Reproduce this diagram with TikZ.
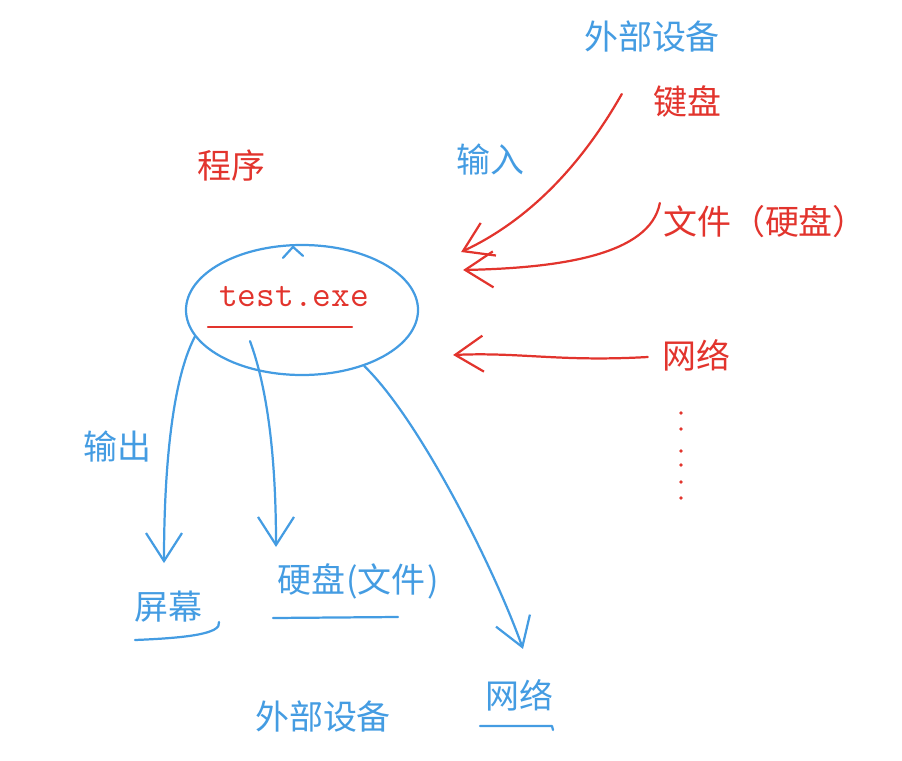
\documentclass[tikz,border=0pt]{standalone}
\usepackage{fontspec}
\setmainfont{Noto Sans CJK SC}
\usepackage{xcolor}
\usepackage{tikz}
\usetikzlibrary{arrows.meta,positioning,shapes.geometric}
\definecolor{SkBlue}{HTML}{449CE2}
\definecolor{SkRed}{HTML}{E2342D}

\begin{document}
\begin{tikzpicture}[
  x=0.03cm, y=-0.03cm,
  bluetxt/.style={text=SkBlue, inner sep=0pt, font=\fontsize{29}{32}\selectfont},
  redtxt/.style={text=SkRed, inner sep=0pt, font=\fontsize{29}{32}\selectfont},
  blob/.style={draw=SkBlue, ellipse, line width=1.9pt, minimum width=6.96cm, minimum height=3.9cm, inner sep=0pt},
  pen/.style={line width=1.9pt, line cap=round, line join=round},
  bluearrow/.style={pen, draw=SkBlue, -{Straight Barb[length=8.4mm, width=10.8mm]}},
  redarrow/.style={pen, draw=SkRed, -{Straight Barb[length=8.4mm, width=10.8mm]}}
]
  \useasboundingbox (0,0) rectangle (902,760);

  % input side
  \node[bluetxt] (devtop) at (652,37) {外部设备};
  \node[redtxt] (kbd) at (687,102) {键盘};
  \node[redtxt] (prg) at (231,166) {程序};
  \node[bluetxt] (input) at (490,160) {输入};
  \node[redtxt] (file) at (765,222) {文件（硬盘）};
  \node[redtxt] (netin) at (696,355) {网络};

  % the program
  \node[blob] (prog) at (302,310) {};
  \node[redtxt, font=\ttfamily\fontsize{31}{34}\selectfont] (exe) at (294,297) {test.exe};
  \draw[pen, SkBlue] ([shift={(-19,14)}]prog.north) -- ([shift={(-9,3)}]prog.north) -- ([shift={(1,12)}]prog.north);
  \draw[pen, SkRed] (208,327) -- (352,327);

  % output side
  \node[bluetxt] (output) at (117,447) {输出};
  \node[bluetxt] (screen) at (168,607) {屏幕};
  \node[bluetxt] (disk) at (358,581) {硬盘\kern1pt(文件\kern1pt)};
  \node[bluetxt] (netout) at (519,695) {网络};
  \node[bluetxt] (devbot) at (323,717) {外部设备};

  \draw[pen, SkBlue] (135,640) .. controls (185,638) and (222,634) .. (219,622);
  \draw[pen, SkBlue] (273,618) -- (398,617);
  \draw[pen, SkBlue] (480,726) -- (552,726) -- (553,730);

  \foreach \y in {413,429,451,465,482,498}
    \fill[SkRed] (681,\y) circle (1.8);

  \draw[redarrow] ([shift={(-31,-8)}]kbd.west) .. controls (590,150) and (540,215) .. ([shift={(42,-58)}]prog.east);
  \draw[redarrow] ([shift={(-3,-19)}]file.west) .. controls (650,255) and (560,268) .. ([shift={(44,-40)}]prog.east);
  \draw[redarrow] ([shift={(-14,2)}]netin.west) .. controls (560,362) and (520,352) .. ([shift={(34,45)}]prog.east);

  \draw[bluearrow] (prog.194) .. controls (172,380) and (164,470) .. ([shift={(-4,-28)}]screen.north);
  \draw[bluearrow] ([shift={(-52,-35)}]prog.south) .. controls (268,390) and (276,460) .. ([shift={(-82,-16)}]disk.north);
  \draw[bluearrow] (prog.318) .. controls (420,420) and (495,570) .. ([shift={(4,-30)}]netout.north);
\end{tikzpicture}
\end{document}
